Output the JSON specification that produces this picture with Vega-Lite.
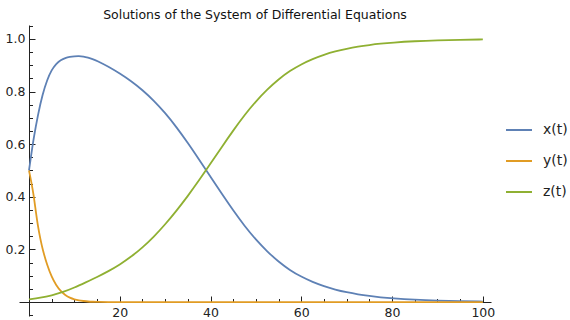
{
  "$schema": "https://vega.github.io/schema/vega-lite/v6.json",
  "width": 472,
  "height": 291,
  "autosize": {"type": "none"},
  "padding": {"left": 19, "top": 25, "right": 79, "bottom": 4},
  "background": "white",
  "title": {"text": "Solutions of the System of Differential Equations", "font": "DejaVu Sans", "fontSize": 12.5, "fontWeight": "normal", "color": "#111", "anchor": "middle", "baseline": "alphabetic", "offset": 5, "dy": 17},
  "config": {"view": {"stroke": null}},
  "data": {"values": [
    {"s":"x(t)","t":0,"v":0.500},{"s":"x(t)","t":0.5,"v":0.560},{"s":"x(t)","t":1,"v":0.620},{"s":"x(t)","t":2,"v":0.715},{"s":"x(t)","t":3,"v":0.790},{"s":"x(t)","t":4,"v":0.845},{"s":"x(t)","t":5,"v":0.883},{"s":"x(t)","t":6,"v":0.906},{"s":"x(t)","t":7,"v":0.920},{"s":"x(t)","t":8,"v":0.928},{"s":"x(t)","t":9,"v":0.932},{"s":"x(t)","t":10,"v":0.934},{"s":"x(t)","t":11,"v":0.935},{"s":"x(t)","t":12,"v":0.933},{"s":"x(t)","t":13,"v":0.929},{"s":"x(t)","t":14,"v":0.924},{"s":"x(t)","t":15,"v":0.917},{"s":"x(t)","t":17.5,"v":0.895},{"s":"x(t)","t":20,"v":0.869},{"s":"x(t)","t":22.5,"v":0.840},{"s":"x(t)","t":25,"v":0.806},{"s":"x(t)","t":27.5,"v":0.766},{"s":"x(t)","t":30,"v":0.719},{"s":"x(t)","t":32.5,"v":0.665},{"s":"x(t)","t":35,"v":0.605},{"s":"x(t)","t":37.5,"v":0.541},{"s":"x(t)","t":40,"v":0.476},{"s":"x(t)","t":42.5,"v":0.411},{"s":"x(t)","t":45,"v":0.348},{"s":"x(t)","t":47.5,"v":0.289},{"s":"x(t)","t":50,"v":0.237},{"s":"x(t)","t":52.5,"v":0.192},{"s":"x(t)","t":55,"v":0.153},{"s":"x(t)","t":57.5,"v":0.121},{"s":"x(t)","t":60,"v":0.096},{"s":"x(t)","t":62.5,"v":0.076},{"s":"x(t)","t":65,"v":0.060},{"s":"x(t)","t":67.5,"v":0.047},{"s":"x(t)","t":70,"v":0.037},{"s":"x(t)","t":72.5,"v":0.029},{"s":"x(t)","t":75,"v":0.023},{"s":"x(t)","t":77.5,"v":0.018},{"s":"x(t)","t":80,"v":0.014},{"s":"x(t)","t":85,"v":0.0085},{"s":"x(t)","t":90,"v":0.0052},{"s":"x(t)","t":95,"v":0.0032},{"s":"x(t)","t":100,"v":0.002},
    {"s":"y(t)","t":0,"v":0.500},{"s":"y(t)","t":0.5,"v":0.458},{"s":"y(t)","t":1,"v":0.410},{"s":"y(t)","t":1.5,"v":0.345},{"s":"y(t)","t":2,"v":0.285},{"s":"y(t)","t":2.5,"v":0.240},{"s":"y(t)","t":3,"v":0.200},{"s":"y(t)","t":4,"v":0.140},{"s":"y(t)","t":5,"v":0.095},{"s":"y(t)","t":6,"v":0.063},{"s":"y(t)","t":7,"v":0.041},{"s":"y(t)","t":8,"v":0.026},{"s":"y(t)","t":9,"v":0.016},{"s":"y(t)","t":10,"v":0.010},{"s":"y(t)","t":11,"v":0.006},{"s":"y(t)","t":12,"v":0.004},{"s":"y(t)","t":13,"v":0.002},{"s":"y(t)","t":14,"v":0.001},{"s":"y(t)","t":15,"v":0.0005},{"s":"y(t)","t":17.5,"v":0},{"s":"y(t)","t":20,"v":0},{"s":"y(t)","t":40,"v":0},{"s":"y(t)","t":60,"v":0},{"s":"y(t)","t":80,"v":0},{"s":"y(t)","t":100,"v":0},
    {"s":"z(t)","t":0,"v":0.010},{"s":"z(t)","t":2.5,"v":0.016},{"s":"z(t)","t":5,"v":0.025},{"s":"z(t)","t":7.5,"v":0.038},{"s":"z(t)","t":10,"v":0.055},{"s":"z(t)","t":12.5,"v":0.075},{"s":"z(t)","t":15,"v":0.095},{"s":"z(t)","t":17.5,"v":0.117},{"s":"z(t)","t":20,"v":0.142},{"s":"z(t)","t":22.5,"v":0.172},{"s":"z(t)","t":25,"v":0.207},{"s":"z(t)","t":27.5,"v":0.248},{"s":"z(t)","t":30,"v":0.295},{"s":"z(t)","t":32.5,"v":0.347},{"s":"z(t)","t":35,"v":0.403},{"s":"z(t)","t":37.5,"v":0.463},{"s":"z(t)","t":40,"v":0.526},{"s":"z(t)","t":42.5,"v":0.590},{"s":"z(t)","t":45,"v":0.652},{"s":"z(t)","t":47.5,"v":0.711},{"s":"z(t)","t":50,"v":0.763},{"s":"z(t)","t":52.5,"v":0.808},{"s":"z(t)","t":55,"v":0.847},{"s":"z(t)","t":57.5,"v":0.879},{"s":"z(t)","t":60,"v":0.904},{"s":"z(t)","t":62.5,"v":0.924},{"s":"z(t)","t":65,"v":0.940},{"s":"z(t)","t":67.5,"v":0.953},{"s":"z(t)","t":70,"v":0.963},{"s":"z(t)","t":72.5,"v":0.971},{"s":"z(t)","t":75,"v":0.977},{"s":"z(t)","t":77.5,"v":0.982},{"s":"z(t)","t":80,"v":0.986},{"s":"z(t)","t":85,"v":0.9915},{"s":"z(t)","t":90,"v":0.995},{"s":"z(t)","t":95,"v":0.997},{"s":"z(t)","t":100,"v":0.998}
  ]},
  "mark": {"type": "line", "interpolate": "basis", "strokeWidth": 1.8},
  "encoding": {
    "x": {"field": "t", "type": "quantitative",
      "scale": {"domain": [-2.2, 101.8], "nice": false, "zero": false},
      "axis": {"title": null, "grid": false, "offset": -14,
        "values": [0,5,10,15,20,25,30,35,40,45,50,55,60,65,70,75,80,85,90,95,100],
        "labelExpr": "datum.value % 20 === 0 && datum.value !== 0 ? datum.label : ''",
        "tickSize": {"condition": {"test": "datum.value % 20 === 0", "value": -6}, "value": -3.5},
        "labelPadding": 10, "labelOverlap": false, "labelFlush": false, "labelBound": false,
        "labelFont": "DejaVu Sans", "labelFontSize": 12.5, "labelColor": "#222",
        "domainColor": "#222", "tickColor": "#222", "domainWidth": 1, "tickWidth": 1}},
    "y": {"field": "v", "type": "quantitative",
      "scale": {"domain": [-0.053, 1.053], "nice": false, "zero": false},
      "axis": {"title": null, "grid": false, "offset": -10, "format": ".1f",
        "values": [-0.05,0,0.05,0.1,0.15,0.2,0.25,0.3,0.35,0.4,0.45,0.5,0.55,0.6,0.65,0.7,0.75,0.8,0.85,0.9,0.95,1,1.05],
        "labelExpr": "round(datum.value*100) % 20 === 0 && datum.value > 0.01 ? datum.label : ''",
        "tickSize": {"condition": {"test": "round(datum.value*100) % 20 === 0", "value": -6}, "value": -3.5},
        "labelPadding": 10, "labelOverlap": false, "labelFlush": false, "labelBound": false,
        "labelFont": "DejaVu Sans", "labelFontSize": 12.5, "labelColor": "#222",
        "domainColor": "#222", "tickColor": "#222", "domainWidth": 1, "tickWidth": 1}},
    "color": {"field": "s", "type": "nominal",
      "scale": {"domain": ["x(t)", "y(t)", "z(t)"], "range": ["#5E81B5", "#E19C24", "#8FB032"]},
      "legend": {"title": null, "orient": "none", "legendX": 486, "legendY": 91, "padding": 0,
        "symbolType": "stroke", "symbolSize": 676, "symbolStrokeWidth": 2,
        "labelFont": "DejaVu Sans", "labelFontSize": 14, "labelColor": "#222", "labelOffset": 10, "rowPadding": 10}}
  }
}
